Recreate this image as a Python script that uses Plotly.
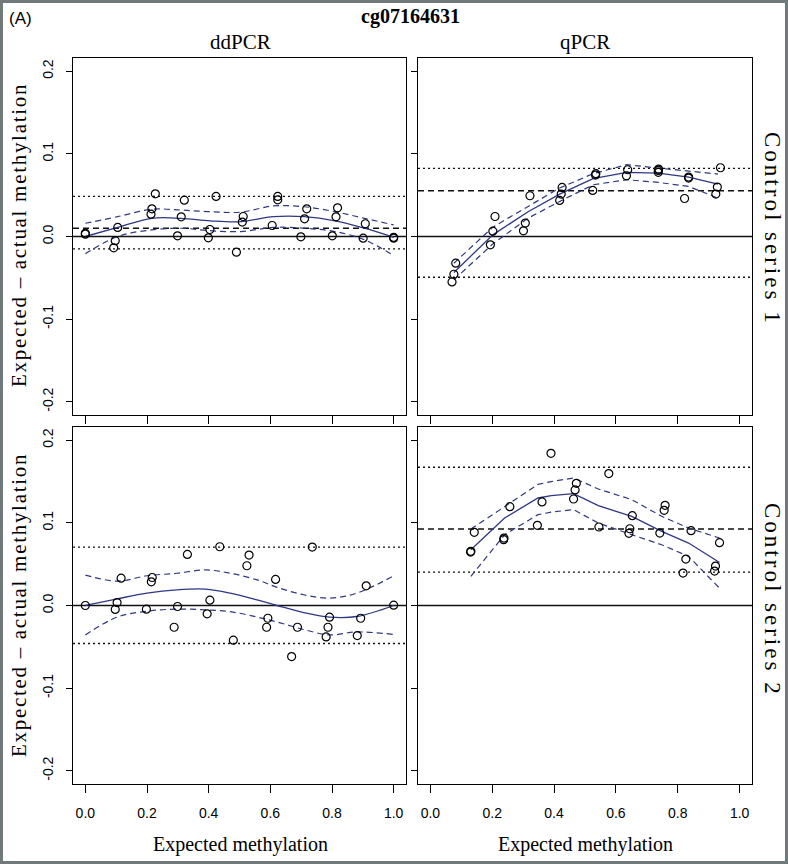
import plotly.graph_objects as go

# ---------------- data ----------------
# Panel: ddPCR, Control series 1
dd1_x = [0.0, 0.0, 0.105, 0.097, 0.092, 0.227, 0.216, 0.213, 0.321, 0.311, 0.299,
         0.424, 0.404, 0.399, 0.512, 0.509, 0.490, 0.624, 0.624, 0.606, 0.718,
         0.711, 0.699, 0.818, 0.813, 0.801, 0.908, 0.901, 1.0, 1.0]
dd1_y = [0.0028, 0.004, 0.011, -0.005, -0.0137, 0.0517, 0.0335, 0.027, 0.044, 0.0238,
         0.0008, 0.0485, 0.0085, -0.0016, 0.0242, 0.0174, -0.019, 0.0485, 0.0444,
         0.0133, 0.0335, 0.0214, -0.0004, 0.0347, 0.0238, 0.0008, 0.0154, -0.002,
         -0.002, -0.001]
dd1_fx = [0.0, 0.105, 0.215, 0.31, 0.405, 0.505, 0.61, 0.71, 0.81, 0.905, 1.0]
dd1_fit = [0.0, 0.011, 0.022, 0.022, 0.019, 0.018, 0.024, 0.024, 0.019, 0.010, -0.001]
dd1_up = [0.016, 0.024, 0.033, 0.032, 0.030, 0.0295, 0.037, 0.036, 0.030, 0.022, 0.014]
dd1_lo = [-0.021, 0.0, 0.008, 0.010, 0.007, 0.006, 0.011, 0.010, 0.006, -0.004, -0.023]
dd1_bias = 0.010
dd1_loa = [-0.015, 0.0485]

# Panel: qPCR, Control series 1
q1_x = [0.070, 0.076, 0.082, 0.194, 0.202, 0.209, 0.301, 0.307, 0.322, 0.418, 0.423,
        0.426, 0.525, 0.534, 0.535, 0.634, 0.638, 0.737, 0.738, 0.737, 0.822, 0.835,
        0.835, 0.923, 0.928, 0.938]
q1_y = [-0.055, -0.0457, -0.0323, -0.0101, 0.0065, 0.0242, 0.0069, 0.0162, 0.0493,
        0.0436, 0.0513, 0.0594, 0.0558, 0.0743, 0.076, 0.0735, 0.0808, 0.0776, 0.0816,
        0.080, 0.046, 0.0719, 0.0707, 0.0513, 0.0598, 0.0832]
q1_fx = [0.076, 0.202, 0.316, 0.418, 0.526, 0.635, 0.737, 0.835, 0.93]
q1_fit = [-0.0436, 0.002, 0.030, 0.0513, 0.070, 0.0776, 0.0768, 0.0719, 0.0634]
q1_up = [-0.0323, 0.0113, 0.0364, 0.0586, 0.076, 0.0869, 0.0828, 0.0788, 0.0756]
q1_lo = [-0.0525, -0.0089, 0.0222, 0.0424, 0.0626, 0.0687, 0.0655, 0.0606, 0.0465]
q1_bias = 0.0554
q1_loa = [-0.0493, 0.0824]

# Panel: ddPCR, Control series 2
dd2_x = [0.0, 0.103, 0.097, 0.116, 0.198, 0.217, 0.214, 0.288, 0.299, 0.331, 0.395,
         0.404, 0.436, 0.480, 0.524, 0.531, 0.592, 0.588, 0.617, 0.669, 0.688, 0.736,
         0.792, 0.787, 0.781, 0.893, 0.882, 0.911, 1.0]
dd2_y = [0.0, 0.0036, -0.0048, 0.0331, -0.0044, 0.0339, 0.0287, -0.0263, -0.0012,
         0.0618, -0.0101, 0.0065, 0.0711, -0.042, 0.0481, 0.061, -0.0154, -0.0263,
         0.0315, -0.0618, -0.0263, 0.0707, -0.0141, -0.0263, -0.038, -0.0154, -0.0364,
         0.0238, 0.0004]
dd2_fx = [0.0, 0.103, 0.2, 0.297, 0.39, 0.47, 0.557, 0.622, 0.708, 0.792, 0.881, 1.0]
dd2_fit = [0.0, 0.008, 0.015, 0.019, 0.0198, 0.015, 0.0069, 0.0, -0.0085, -0.0141,
           -0.0133, 0.0]
dd2_up = [0.0368, 0.0295, 0.036, 0.039, 0.043, 0.039, 0.031, 0.022, 0.013, 0.009,
          0.015, 0.036]
dd2_lo = [-0.0356, -0.0141, -0.0069, -0.0044, -0.0053, -0.0075, -0.014, -0.020,
          -0.029, -0.0356, -0.032, -0.035]
dd2_loa = [-0.046, 0.0707]

# Panel: qPCR, Control series 2
q2_x = [0.131, 0.13, 0.142, 0.237, 0.238, 0.257, 0.346, 0.361, 0.39, 0.463, 0.468,
        0.472, 0.545, 0.577, 0.642, 0.645, 0.653, 0.742, 0.756, 0.759, 0.817, 0.826,
        0.843, 0.919, 0.922, 0.935]
q2_y = [0.0655, 0.0646, 0.0885, 0.0796, 0.0816, 0.1196, 0.097, 0.1253, 0.1842, 0.1289,
        0.1398, 0.1479, 0.095, 0.1596, 0.0873, 0.0929, 0.1087, 0.0877, 0.1152, 0.1212,
        0.0392, 0.0562, 0.0905, 0.0416, 0.0477, 0.076]
q2_fx = [0.131, 0.24, 0.348, 0.391, 0.463, 0.543, 0.651, 0.748, 0.835, 0.935]
q2_fit = [0.0675, 0.1059, 0.1301, 0.1329, 0.1354, 0.1208, 0.1079, 0.0897, 0.0756, 0.0521]
q2_up = [0.0925, 0.12, 0.1465, 0.150, 0.1543, 0.141, 0.1281, 0.1079, 0.0937, 0.0816]
q2_lo = [0.0352, 0.0857, 0.1099, 0.113, 0.116, 0.0998, 0.0857, 0.0735, 0.0594, 0.021]
q2_bias = 0.0925
q2_loa = [0.0404, 0.1673]

x_ticks = [0.0, 0.2, 0.4, 0.6, 0.8, 1.0]
y_ticks = [-0.2, -0.1, 0.0, 0.1, 0.2]
col_titles = ["ddPCR", "qPCR"]
row_titles = ["Control series 1", "Control series 2"]
main_title = "cg07164631"
panel_tag = "(A)"
x_title = "Expected methylation"
y_title = "Expected \u2013 actual methylation"

# ---------------- layout geometry ----------------
W, H = 788, 864
PL, PR, PT, PB = 73, 752, 58, 784


def px(x):
    return (x - PL) / (PR - PL)


def py(y):
    return (PB - y) / (PB - PT)


BLUE = "#2f3784"
SERIF = "Liberation Serif"
SANS = "Liberation Sans"

fig = go.Figure()

panels = [
    ("x", "y", dd1_x, dd1_y, dd1_fx, dd1_fit, dd1_up, dd1_lo, dd1_bias, dd1_loa, "spline"),
    ("x2", "y2", q1_x, q1_y, q1_fx, q1_fit, q1_up, q1_lo, q1_bias, q1_loa, "linear"),
    ("x3", "y3", dd2_x, dd2_y, dd2_fx, dd2_fit, dd2_up, dd2_lo, None, dd2_loa, "spline"),
    ("x4", "y4", q2_x, q2_y, q2_fx, q2_fit, q2_up, q2_lo, q2_bias, q2_loa, "linear"),
]

shapes = []
for xa, ya, xs, ys, fx, fit, up, lo, bias, loa, shape in panels:
    xd = xa + " domain"
    shapes.append(dict(type="line", xref=xd, x0=0, x1=1, yref=ya, y0=0, y1=0,
                       line=dict(color="#111111", width=1.4), layer="below"))
    if bias is not None:
        shapes.append(dict(type="line", xref=xd, x0=0, x1=1, yref=ya, y0=bias, y1=bias,
                           line=dict(color="#111111", width=1.4, dash="6px,4px"), layer="below"))
    for v in loa:
        shapes.append(dict(type="line", xref=xd, x0=0, x1=1, yref=ya, y0=v, y1=v,
                           line=dict(color="#111111", width=1.3, dash="2px,3px"), layer="below"))
    fig.add_trace(go.Scatter(x=fx, y=up, mode="lines", xaxis=xa, yaxis=ya,
                             line=dict(color=BLUE, width=1.2, dash="6px,4px", shape=shape),
                             showlegend=False, hoverinfo="skip"))
    fig.add_trace(go.Scatter(x=fx, y=lo, mode="lines", xaxis=xa, yaxis=ya,
                             line=dict(color=BLUE, width=1.2, dash="6px,4px", shape=shape),
                             showlegend=False, hoverinfo="skip"))
    fig.add_trace(go.Scatter(x=fx, y=fit, mode="lines", xaxis=xa, yaxis=ya,
                             line=dict(color=BLUE, width=1.3, shape=shape),
                             showlegend=False, hoverinfo="skip"))
    fig.add_trace(go.Scatter(x=xs, y=ys, mode="markers", xaxis=xa, yaxis=ya,
                             marker=dict(symbol="circle-open", size=8, color="black",
                                         line=dict(width=1.2, color="black")),
                             showlegend=False))

# gray outer frame
shapes.append(dict(type="rect", xref="paper", yref="paper",
                   x0=px(0), x1=px(W), y0=py(H), y1=py(0),
                   line=dict(color="#6f7979", width=6), layer="above"))

left_dom = [0, px(406)]
right_dom = [px(418), 1]
top_dom = [py(415), 1]
bot_dom = [0, py(427)]

axcommon = dict(showline=True, mirror=True, linecolor="black", linewidth=1,
                ticks="outside", tickcolor="black", tickwidth=1,
                showgrid=False, zeroline=False,
                tickfont=dict(family=SANS, size=14, color="black"))

xcommon = dict(axcommon, range=[-0.04, 1.04], tickvals=x_ticks, ticklen=8,
               ticktext=[f"{v:.1f}" for v in x_ticks])
ycommon = dict(axcommon, range=[-0.216, 0.216], tickvals=y_ticks, ticklen=6,
               ticktext=[f"{v:.1f}" for v in y_ticks], tickangle=-90,
               ticklabelstandoff=7)

fig.update_layout(
    width=W, height=H,
    margin=dict(l=PL, r=W - PR, t=PT, b=H - PB, pad=0),
    paper_bgcolor="white", plot_bgcolor="white",
    xaxis=dict(xcommon, domain=left_dom, anchor="y", showticklabels=False),
    yaxis=dict(ycommon, domain=top_dom, anchor="x"),
    xaxis2=dict(xcommon, domain=right_dom, anchor="y2", showticklabels=False),
    yaxis2=dict(ycommon, domain=top_dom, anchor="x2", showticklabels=False),
    xaxis3=dict(xcommon, domain=left_dom, anchor="y3", ticklabelstandoff=8),
    yaxis3=dict(ycommon, domain=bot_dom, anchor="x3"),
    xaxis4=dict(xcommon, domain=right_dom, anchor="y4", ticklabelstandoff=8),
    yaxis4=dict(ycommon, domain=bot_dom, anchor="x4", showticklabels=False),
    shapes=shapes,
)

ann = []


def add_text(text, x, y, family, size, angle=0, bold=False, spacing=None):
    t = f"<b>{text}</b>" if bold else text
    if spacing:
        t = f'<span style="letter-spacing:{spacing}px">{t}</span>'
    ann.append(dict(text=t, x=px(x), y=py(y), xref="paper", yref="paper",
                    xanchor="center", yanchor="middle", showarrow=False,
                    textangle=angle, font=dict(family=family, size=size, color="black")))


add_text(panel_tag, 20, 18, SANS, 17)
add_text(main_title, 410, 17, SERIF, 20, bold=True)
add_text(col_titles[0], 240, 42, SERIF, 21)
add_text(col_titles[1], 585, 42, SERIF, 21)
add_text(x_title, 240, 845, SERIF, 20)
add_text(x_title, 585, 845, SERIF, 20)
add_text(y_title, 19, 235, SERIF, 21, angle=-90, spacing=1.7)
add_text(y_title, 19, 605, SERIF, 21, angle=-90, spacing=1.7)
add_text(row_titles[0], 773, 229, SERIF, 23, angle=90, spacing=3)
add_text(row_titles[1], 773, 600, SERIF, 23, angle=90, spacing=3)

fig.update_layout(annotations=ann)

fig.write_html("out.html", config={"displayModeBar": False},
               post_script="document.body.style.margin='0';")
